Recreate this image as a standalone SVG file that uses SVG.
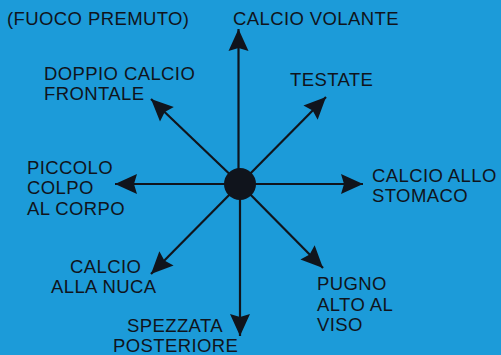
<svg xmlns="http://www.w3.org/2000/svg" width="501" height="355" viewBox="0 0 501 355">
<style>
text{font-family:"Liberation Sans",Arial,sans-serif;font-size:18.5px;letter-spacing:0.4px;fill:#10141c}
.c line{stroke:#10141c;stroke-width:2.2}
</style>
<defs>
<marker id="ah" markerUnits="userSpaceOnUse" viewBox="-23 -11 24 22" refX="0" refY="0" markerWidth="24" markerHeight="22" orient="auto">
<path d="M0,0 L-22,-10 L-19,0 L-22,10 Z" fill="#10141c"/>
</marker>
</defs>
<rect width="501" height="355" fill="#1c9bd9"/>
<g id="connectors" class="c">
<line x1="238.5" y1="184" x2="238.5" y2="29" marker-end="url(#ah)"/>
<line x1="240" y1="184" x2="240" y2="336" marker-end="url(#ah)"/>
<line x1="240" y1="184" x2="115" y2="184" marker-end="url(#ah)"/>
<line x1="240" y1="184" x2="363" y2="184" marker-end="url(#ah)"/>
<line x1="240" y1="184" x2="151" y2="99" marker-end="url(#ah)"/>
<line x1="240" y1="184" x2="326" y2="97" marker-end="url(#ah)"/>
<line x1="240" y1="184" x2="151" y2="274" marker-end="url(#ah)"/>
<line x1="240" y1="184" x2="323" y2="268" marker-end="url(#ah)"/>
</g>
<g id="center"><circle cx="240" cy="184" r="16" fill="#10141c"/></g>
<g id="title"><text x="7" y="24.5">(FUOCO PREMUTO)</text></g>
<g id="n-up"><text x="233" y="25">CALCIO VOLANTE</text></g>
<g id="n-ul"><text x="44" y="80">DOPPIO CALCIO</text><text x="44" y="100">FRONTALE</text></g>
<g id="n-ur"><text x="290" y="86">TESTATE</text></g>
<g id="n-left"><text x="27" y="173.5">PICCOLO</text><text x="27" y="194">COLPO</text><text x="27" y="214.5">AL CORPO</text></g>
<g id="n-right"><text x="372" y="181.5">CALCIO ALLO</text><text x="372" y="201.5">STOMACO</text></g>
<g id="n-ll"><text x="70" y="273">CALCIO</text><text x="51" y="293">ALLA NUCA</text></g>
<g id="n-down"><text x="127" y="332">SPEZZATA</text><text x="113" y="352">POSTERIORE</text></g>
<g id="n-lr"><text x="317" y="290">PUGNO</text><text x="317" y="310.5">ALTO AL</text><text x="317" y="330.5">VISO</text></g>
</svg>
